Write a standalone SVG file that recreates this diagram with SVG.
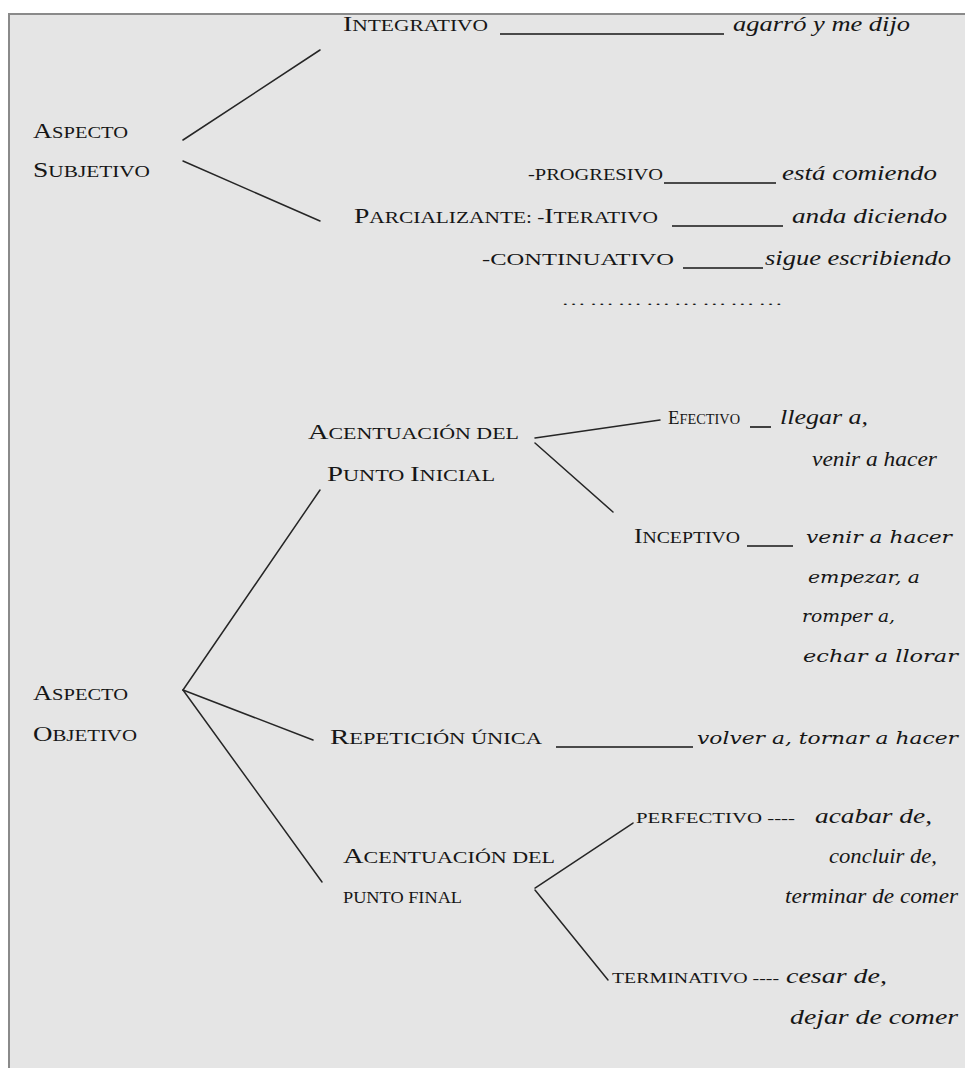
<svg xmlns="http://www.w3.org/2000/svg" width="965" height="1068" viewBox="0 0 965 1068">
  <style>
    .sc { font-family: "Liberation Serif", "DejaVu Serif", serif; font-size: 22px; fill: #161616; }
    .s { font-size: 17px; }
    .sm { font-size: 15.5px; }
    .it { font-family: "Liberation Serif", "DejaVu Serif", serif; font-style: italic; font-size: 20px; fill: #161616; }
    .itw { font-family: "DejaVu Serif", "Liberation Serif", serif; font-style: italic; font-size: 17px; fill: #161616; }
    .dots { font-size: 13px; }
    .rule { stroke: #161616; stroke-width: 1.6; fill: none; }
    .conn line { stroke: #262626; stroke-width: 1.5; stroke-linecap: round; }
  </style>

  <!-- page and frame -->
  <rect x="0" y="0" width="965" height="1068" fill="#ffffff"/>
  <rect x="9" y="14" width="970" height="1070" fill="#e5e5e5" stroke="#8a8a8a" stroke-width="2"/>

  <!-- connectors -->
  <g id="connectors" class="conn">
    <line x1="183" y1="140" x2="320" y2="50"/>
    <line x1="183" y1="161" x2="320" y2="221"/>
    <line x1="183" y1="690" x2="320" y2="490"/>
    <line x1="183" y1="690" x2="313" y2="740"/>
    <line x1="183" y1="690" x2="322" y2="882"/>
    <line x1="535" y1="438" x2="660" y2="420"/>
    <line x1="535" y1="443" x2="613" y2="512"/>
    <line x1="535" y1="888" x2="633" y2="823"/>
    <line x1="535" y1="890" x2="608" y2="980"/>
  </g>

  <!-- subjective aspect -->
  <g id="aspecto-subjetivo">
    <text class="sc" x="33" y="138" textLength="95" lengthAdjust="spacingAndGlyphs">A<tspan class="s">SPECTO</tspan></text>
    <text class="sc" x="33" y="177" textLength="117" lengthAdjust="spacingAndGlyphs">S<tspan class="s">UBJETIVO</tspan></text>
  </g>

  <g id="integrativo">
    <text class="sc" x="343" y="31" textLength="145" lengthAdjust="spacingAndGlyphs">I<tspan class="s">NTEGRATIVO</tspan></text>
    <line class="rule" x1="500" y1="34" x2="724" y2="34"/>
    <text class="it" x="733" y="31" textLength="177" lengthAdjust="spacingAndGlyphs">agarró y me dijo</text>
  </g>

  <g id="parcializante">
    <text class="sc s" x="528" y="180" textLength="135" lengthAdjust="spacingAndGlyphs">-PROGRESIVO</text>
    <line class="rule" x1="664" y1="183" x2="776" y2="183"/>
    <text class="it" x="782" y="180" textLength="155" lengthAdjust="spacingAndGlyphs">está comiendo</text>

    <text class="sc" x="354" y="223" textLength="304" lengthAdjust="spacingAndGlyphs">P<tspan class="s">ARCIALIZANTE: -</tspan>I<tspan class="s">TERATIVO</tspan></text>
    <line class="rule" x1="672" y1="226" x2="783" y2="226"/>
    <text class="it" x="792" y="223" textLength="155" lengthAdjust="spacingAndGlyphs">anda diciendo</text>

    <text class="sc s" x="482" y="265" textLength="192" lengthAdjust="spacingAndGlyphs">-CONTINUATIVO</text>
    <line class="rule" x1="683" y1="268" x2="763" y2="268"/>
    <text class="it" x="765" y="265" textLength="186" lengthAdjust="spacingAndGlyphs">sigue escribiendo</text>

    <text class="it dots" x="563" y="305" textLength="219" lengthAdjust="spacingAndGlyphs">… … … … … … … …</text>
  </g>

  <!-- objective aspect -->
  <g id="aspecto-objetivo">
    <text class="sc" x="33" y="700" textLength="95" lengthAdjust="spacingAndGlyphs">A<tspan class="s">SPECTO</tspan></text>
    <text class="sc" x="33" y="741" textLength="104" lengthAdjust="spacingAndGlyphs">O<tspan class="s">BJETIVO</tspan></text>
  </g>

  <g id="punto-inicial">
    <text class="sc" x="308" y="439" textLength="211" lengthAdjust="spacingAndGlyphs">A<tspan class="s">CENTUACIÓN DEL</tspan></text>
    <text class="sc" x="327" y="481" textLength="168" lengthAdjust="spacingAndGlyphs">P<tspan class="s">UNTO </tspan>I<tspan class="s">NICIAL</tspan></text>
  </g>

  <g id="efectivo">
    <text class="sc" x="668" y="424" textLength="72" lengthAdjust="spacingAndGlyphs" style="font-size:19px">E<tspan style="font-size:14.5px">FECTIVO</tspan></text>
    <line class="rule" x1="750" y1="427" x2="771" y2="427"/>
    <text class="it" x="780" y="424" textLength="88" lengthAdjust="spacingAndGlyphs">llegar a,</text>
    <text class="it" x="812" y="466" textLength="125" lengthAdjust="spacingAndGlyphs">venir a hacer</text>
  </g>

  <g id="inceptivo">
    <text class="sc" x="634" y="543" textLength="106" lengthAdjust="spacingAndGlyphs">I<tspan class="s">NCEPTIVO</tspan></text>
    <line class="rule" x1="747" y1="546" x2="793" y2="546"/>
    <text class="itw" x="806" y="543" textLength="146" lengthAdjust="spacingAndGlyphs">venir a hacer</text>
    <text class="itw" x="808" y="583" textLength="112" lengthAdjust="spacingAndGlyphs">empezar, a</text>
    <text class="itw" x="802" y="622" textLength="93" lengthAdjust="spacingAndGlyphs">romper a,</text>
    <text class="itw" x="803" y="662" textLength="155" lengthAdjust="spacingAndGlyphs">echar a llorar</text>
  </g>

  <g id="repeticion-unica">
    <text class="sc" x="330" y="744" textLength="212" lengthAdjust="spacingAndGlyphs">R<tspan class="s">EPETICIÓN ÚNICA</tspan></text>
    <line class="rule" x1="556" y1="747" x2="693" y2="747"/>
    <text class="itw" x="697" y="744" textLength="261" lengthAdjust="spacingAndGlyphs">volver a, tornar a hacer</text>
  </g>

  <g id="punto-final">
    <text class="sc" x="343" y="863" textLength="212" lengthAdjust="spacingAndGlyphs">A<tspan class="s">CENTUACIÓN DEL</tspan></text>
    <text class="sc s" x="343" y="903" textLength="119" lengthAdjust="spacingAndGlyphs">PUNTO FINAL</text>
  </g>

  <g id="perfectivo">
    <text class="sc sm" x="636" y="823" textLength="159" lengthAdjust="spacingAndGlyphs">PERFECTIVO ----</text>
    <text class="it" x="815" y="823" textLength="117" lengthAdjust="spacingAndGlyphs">acabar de,</text>
    <text class="it" x="829" y="863" textLength="108" lengthAdjust="spacingAndGlyphs">concluir de,</text>
    <text class="it" x="785" y="903" textLength="173" lengthAdjust="spacingAndGlyphs">terminar de comer</text>
  </g>

  <g id="terminativo">
    <text class="sc sm" x="612" y="983" textLength="167" lengthAdjust="spacingAndGlyphs">TERMINATIVO ----</text>
    <text class="it" x="786" y="983" textLength="101" lengthAdjust="spacingAndGlyphs">cesar de,</text>
    <text class="it" x="790" y="1024" textLength="168" lengthAdjust="spacingAndGlyphs">dejar de comer</text>
  </g>
</svg>
